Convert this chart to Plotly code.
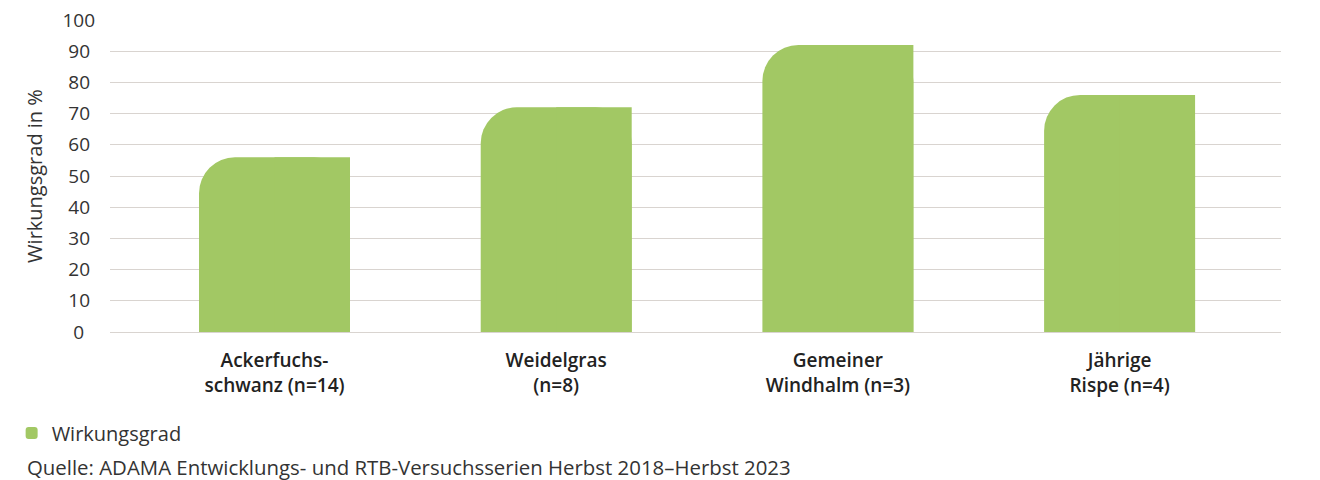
import plotly.graph_objects as go

categories = ["Ackerfuchs-<br>schwanz (n=14)", "Weidelgras<br>(n=8)", "Gemeiner<br>Windhalm (n=3)", "Jährige<br>Rispe (n=4)"]
values = [56, 72, 92, 76]
series_name = "Wirkungsgrad"
y_ticks = [0, 10, 20, 30, 40, 50, 60, 70, 80, 90, 100]
source_text = "Quelle: ADAMA Entwicklungs- und RTB-Versuchsserien Herbst 2018–Herbst 2023"

GREEN = "#a2c864"
GRID = "#d9d4d0"
TXT = "#333333"
FONT = "Open Sans"

bar_w = 0.536
xpos = list(range(len(categories)))


def centered(v):
    # pad right so right-aligned tick labels appear centred
    s = str(v)
    n = 3 - len(s)
    return s + "\u2007" * (n // 2) + ("\u2008" if n % 2 else "")


fig = go.Figure()
fig.add_trace(go.Bar(
    x=xpos, y=values, name=series_name, width=bar_w,
    marker=dict(color=GREEN, cornerradius=36, line=dict(width=0)),
    showlegend=True,
))
# right half, square corner on top-right
fig.add_trace(go.Bar(
    x=xpos, y=values, name=series_name, width=bar_w / 2, offset=0,
    marker=dict(color=GREEN, line=dict(width=0)),
    showlegend=False, hoverinfo="skip",
))

fig.update_layout(
    width=1312, height=472,
    barmode="overlay",
    margin=dict(l=102, r=39, t=12, b=148, autoexpand=False),
    paper_bgcolor="white", plot_bgcolor="white",
    font=dict(family=FONT, color=TXT, size=18),
    legend=dict(
        orientation="h", x=-0.084, y=-0.324, xanchor="left", yanchor="middle",
        font=dict(size=20, color=TXT), itemwidth=30, bgcolor="rgba(0,0,0,0)",
    ),
    annotations=[dict(
        text=source_text, xref="paper", yref="paper", x=-0.073, y=-0.433,
        xanchor="left", yanchor="middle", showarrow=False,
        font=dict(size=20.4, color=TXT, family=FONT),
    )],
)

fig.update_xaxes(
    tickmode="array", tickvals=xpos, ticktext=categories,
    range=[-0.584, 3.573], showgrid=False, showline=False, zeroline=False,
    ticks="", tickfont=dict(size=19, color="#222222", family=FONT, weight=600),
    ticklabelstandoff=15,
)
fig.update_yaxes(
    range=[0, 100], tickmode="array", tickvals=y_ticks,
    ticktext=[centered(v) for v in y_ticks],
    ticklabeloverflow="allow",
    showgrid=True, gridcolor=GRID, gridwidth=1,
    zeroline=True, zerolinecolor=GRID, zerolinewidth=1, showline=False,
    ticks="", tickfont=dict(size=19, color=TXT, family=FONT),
    ticklabelstandoff=14,
    title=dict(text="Wirkungsgrad in %", font=dict(size=20, color=TXT, family=FONT), standoff=14),
)

fig.write_html("out.html")
